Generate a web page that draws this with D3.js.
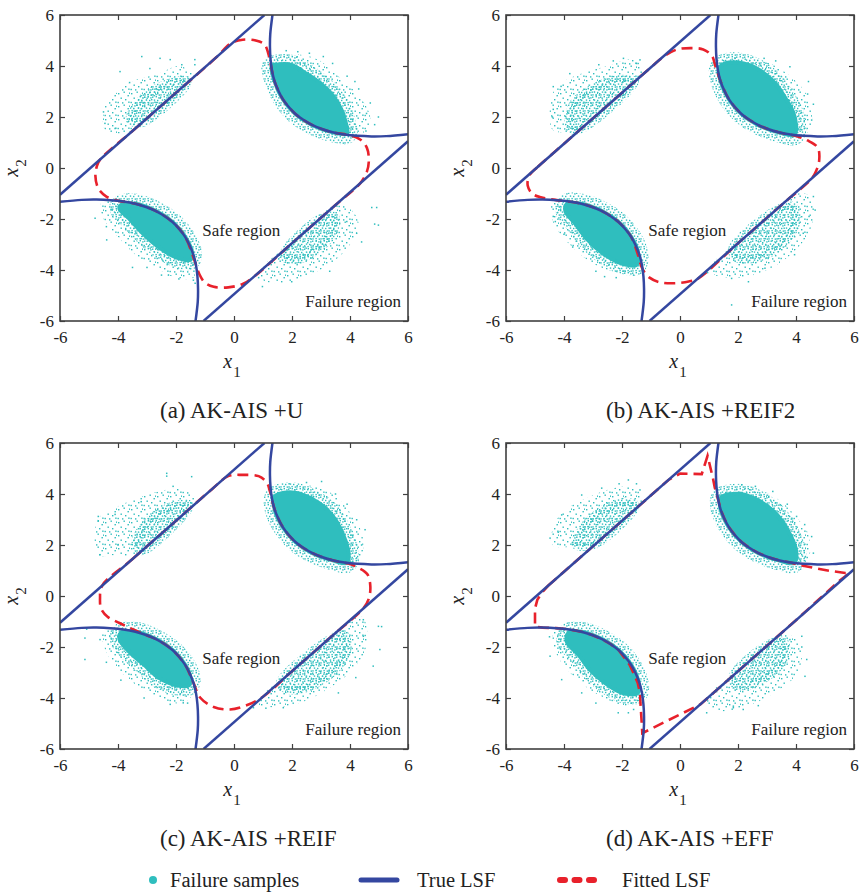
<!DOCTYPE html>
<html><head><meta charset="utf-8">
<script src="https://cdn.jsdelivr.net/npm/d3@7"></script>
<style>
body{margin:0;background:#fff}
text{font-family:"Liberation Serif","Times New Roman",serif;fill:#222}
</style></head><body>
<svg id="chart" width="860" height="895"></svg>
<script>
// ---------------- DATA ----------------
const axisTicks = [-6,-4,-2,0,2,4,6];
const panelCaptions = ["(a) AK-AIS +U","(b) AK-AIS +REIF2","(c) AK-AIS +REIF","(d) AK-AIS +EFF"];
const legendLabels = ["Failure samples","True LSF","Fitted LSF"];
const regionLabels = [["Safe region",0.25,-2.65],["Failure region",5.76,-5.45]];

// true limit-state function branches
const trueLineUpper = [[-6,-1.05],[1.05,6]];
const trueLineLower = [[-1.05,-6],[6,1.05]];
const trueCurveUR = [[1.33,6.03],[1.25,5.25],[1.24,4.74],[1.26,4.26],[1.31,3.81],[1.40,3.40],[1.53,3.03],[1.69,2.69],[1.89,2.39],[2.12,2.12],[2.39,1.89],[2.69,1.69],[3.03,1.53],[3.40,1.40],[3.81,1.31],[4.26,1.26],[4.74,1.24],[5.25,1.25],[6.03,1.33]];
const trueCurveLL = [[-1.33,-6.03],[-1.25,-5.25],[-1.24,-4.74],[-1.26,-4.26],[-1.31,-3.81],[-1.40,-3.40],[-1.53,-3.03],[-1.69,-2.69],[-1.89,-2.39],[-2.12,-2.12],[-2.39,-1.89],[-2.69,-1.69],[-3.03,-1.53],[-3.40,-1.40],[-3.81,-1.31],[-4.26,-1.26],[-4.74,-1.24],[-5.25,-1.25],[-6.03,-1.33]];

// fitted LSF (closed contours)
const fitted_a = [[-4.62,0.33],[-3.5,1.45],[-2.0,2.95],[-0.6,4.35],[-0.1,4.9],[0.3,5.03],[0.75,5.0],[1.05,4.85],[1.18,4.5],[1.26,4.1],[1.40,3.40],[1.69,2.69],[2.12,2.12],[2.69,1.69],[3.40,1.40],[4.0,1.28],[4.35,1.12],[4.58,0.8],[4.65,0.3],[4.58,-0.15],[4.35,-0.6],[3.5,-1.45],[2.0,-2.95],[0.7,-4.25],[0.3,-4.55],[-0.2,-4.68],[-0.7,-4.66],[-1.0,-4.5],[-1.2,-4.15],[-1.4,-3.5],[-1.69,-2.69],[-2.12,-2.12],[-2.69,-1.69],[-3.40,-1.40],[-4.0,-1.28],[-4.4,-1.12],[-4.68,-0.8],[-4.78,-0.3],[-4.72,0.1]];
const fitted_b = [[-5.2,-0.3],[-4.9,0.05],[-4.0,0.95],[-2.5,2.45],[-1.0,3.95],[-0.5,4.42],[-0.1,4.65],[0.35,4.7],[0.8,4.65],[1.1,4.4],[1.22,4.0],[1.40,3.40],[1.69,2.69],[2.12,2.12],[2.69,1.69],[3.40,1.40],[3.95,1.27],[4.4,1.08],[4.75,0.8],[4.8,0.3],[4.7,-0.1],[4.55,-0.4],[3.5,-1.45],[2.0,-2.95],[0.6,-4.35],[0.3,-4.45],[-0.2,-4.52],[-0.7,-4.48],[-1.05,-4.3],[-1.3,-3.95],[-1.45,-3.4],[-1.69,-2.69],[-2.12,-2.12],[-2.69,-1.69],[-3.40,-1.40],[-4.3,-1.25],[-4.8,-1.15],[-5.1,-1.0],[-5.25,-0.7]];
const fitted_c = [[-4.55,0.4],[-3.5,1.45],[-2.0,2.95],[-0.75,4.2],[-0.2,4.7],[0.3,4.75],[0.85,4.7],[1.13,4.45],[1.24,4.1],[1.40,3.40],[1.69,2.69],[2.12,2.12],[2.69,1.69],[3.40,1.40],[3.95,1.27],[4.3,1.1],[4.6,0.85],[4.7,0.4],[4.65,-0.1],[4.45,-0.5],[3.5,-1.45],[2.0,-2.95],[1.0,-3.95],[0.4,-4.3],[-0.14,-4.45],[-0.7,-4.35],[-1.17,-3.98],[-1.4,-3.4],[-1.69,-2.69],[-2.12,-2.12],[-2.69,-1.69],[-3.03,-1.53],[-3.5,-1.3],[-3.95,-1.06],[-4.35,-0.82],[-4.58,-0.5],[-4.62,-0.1]];
const fitted_d = [[-4.55,0.4],[-3.5,1.45],[-2.0,2.95],[-1.0,3.95],[-0.4,4.55],[0.0,4.8],[0.75,4.78],[0.95,5.5],[1.13,4.65],[1.2,4.25],[1.31,3.81],[1.40,3.40],[1.53,3.03],[1.69,2.69],[1.89,2.39],[2.12,2.12],[2.39,1.89],[2.69,1.69],[3.03,1.53],[3.40,1.40],[3.81,1.31],[4.2,1.2],[4.7,1.08],[5.2,0.98],[5.7,0.9],[5.85,0.9],[5.5,0.6],[4.0,-0.95],[2.0,-2.95],[0.7,-4.25],[-1.3,-5.38],[-1.33,-4.8],[-1.36,-4.26],[-1.38,-3.81],[-1.46,-3.40],[-1.6,-3.03],[-1.74,-2.69],[-1.92,-2.42],[-2.12,-2.12],[-2.39,-1.89],[-2.69,-1.69],[-3.03,-1.53],[-3.40,-1.40],[-3.81,-1.31],[-4.26,-1.26],[-4.74,-1.24],[-5.0,-1.2],[-5.0,-0.5],[-4.92,-0.15],[-4.75,0.15]];

// failure samples: sparse outer envelope, dense core, isolated points (clusters UL, UR, LL, LR)
const samplesHalo_a = [
 [[-4.45,1.5],[-4.45,2.4],[-4.0,3.0],[-3.4,3.45],[-2.6,3.7],[-1.9,4.0],[-1.4,3.7],[-1.4,3.55],[-3.5,1.45],[-4.0,1.35]],
 [[1.5,4.35],[2.2,4.45],[2.9,4.25],[3.5,3.7],[4.0,3.2],[4.4,2.7],[4.65,2.2],[4.7,1.7],[4.4,1.35],[3.9,1.28],[3.4,1.4],[2.12,2.12],[1.4,3.4],[1.35,4.2]],
 [[-4.6,-1.4],[-4.26,-1.26],[-3.4,-1.4],[-2.12,-2.12],[-1.45,-3.3],[-1.35,-3.8],[-1.4,-4.3],[-2.0,-4.3],[-2.7,-3.9],[-3.4,-3.4],[-4.0,-2.7],[-4.5,-2.0]],
 [[0.9,-4.05],[2.4,-2.55],[3.5,-1.45],[4.0,-1.6],[4.3,-2.2],[4.0,-3.0],[3.4,-3.7],[2.6,-4.2],[1.8,-4.5],[1.0,-4.4]]
];
const samplesCore_a = [
 [[-3.6,1.9],[-3.3,2.55],[-2.8,3.05],[-2.2,3.35],[-1.75,3.45],[-1.6,3.35],[-3.2,1.75]],
 [[1.45,4.05],[1.95,4.05],[2.5,3.7],[3.0,3.3],[3.4,2.85],[3.7,2.3],[3.85,1.8],[3.9,1.35],[3.4,1.4],[2.69,1.69],[2.12,2.12],[1.69,2.69],[1.4,3.4],[1.3,4.0]],
 [[-3.9,-1.45],[-3.4,-1.4],[-2.69,-1.69],[-2.12,-2.12],[-1.69,-2.69],[-1.45,-3.3],[-1.5,-3.6],[-2.0,-3.5],[-2.6,-3.1],[-3.2,-2.5],[-3.6,-2.0],[-3.95,-1.6]],
 [[1.8,-3.15],[3.0,-1.95],[3.5,-1.9],[3.4,-2.6],[2.9,-3.2],[2.2,-3.6],[1.7,-3.5]]
];
const samplesOut_a = [[-3.18,4.37],[-2.55,4.3],[-2.2,4.25],[-1.35,4.25],[-1.35,4.05],[-3.93,3.78],[-4.5,2.2],[-4.45,1.75],[-4.1,1.55],[-1.8,4.05],[-2.9,3.9],[-3.6,3.35],
 [2.2,4.56],[3.08,4.37],[3.4,4.1],[4.3,3.1],[4.7,2.55],[4.98,2.0],[4.85,1.7],[4.55,1.45],[3.9,3.6],[2.6,4.5],[1.8,4.6],[4.17,3.39],[4.57,2.14],
 [-4.79,-1.97],[-4.39,-2.82],[-4.4,-2.3],[-3.5,-3.9],[-2.5,-4.2],[-1.34,-4.52],[-1.4,-4.4],[-3.0,-3.9],[-4.2,-1.65],[-2.26,-4.2],[-1.9,-4.35],
 [4.75,-1.55],[4.92,-1.55],[4.85,-2.2],[4.98,-2.24],[4.23,-2.56],[3.89,-2.1],[1.99,-4.46],[0.98,-4.65],[3.3,-4.05],[4.4,-2.9],[0.85,-4.3]];

const samplesHalo_b = [
 [[-4.4,1.5],[-4.4,2.9],[-4.0,3.4],[-3.3,3.75],[-2.5,4.0],[-1.8,4.25],[-1.35,4.1],[-1.3,3.65],[-3.4,1.55],[-4.0,1.4]],
 [[1.5,4.25],[2.4,4.3],[3.3,4.0],[3.9,3.5],[4.3,3.0],[4.5,2.4],[4.55,1.8],[4.4,1.4],[3.95,1.27],[3.4,1.4],[2.12,2.12],[1.4,3.4],[1.3,4.1]],
 [[-4.4,-1.3],[-3.4,-1.4],[-2.12,-2.12],[-1.45,-3.3],[-1.4,-3.9],[-1.8,-4.1],[-2.5,-4.0],[-3.2,-3.6],[-3.8,-3.0],[-4.3,-2.3],[-4.45,-1.8]],
 [[1.0,-3.95],[2.5,-2.45],[3.9,-1.05],[4.5,-1.1],[4.6,-2.0],[4.3,-2.8],[3.6,-3.6],[2.8,-4.1],[2.0,-4.3],[1.2,-4.2]]
];
const samplesCore_b = [
 [[-3.8,1.55],[-3.7,2.5],[-3.2,3.0],[-2.6,3.35],[-2.0,3.5],[-1.55,3.4],[-3.45,1.5]],
 [[1.55,4.1],[2.2,4.1],[2.8,3.8],[3.3,3.3],[3.6,2.8],[3.9,2.2],[4.0,1.7],[3.95,1.3],[3.4,1.4],[2.69,1.69],[2.12,2.12],[1.69,2.69],[1.4,3.4],[1.35,3.9]],
 [[-3.9,-1.4],[-3.4,-1.4],[-2.69,-1.69],[-2.12,-2.12],[-1.69,-2.69],[-1.45,-3.3],[-1.5,-3.8],[-2.0,-3.75],[-2.6,-3.4],[-3.2,-2.8],[-3.6,-2.2],[-3.95,-1.7]],
 [[1.8,-3.15],[3.3,-1.65],[3.9,-1.5],[4.0,-2.2],[3.6,-2.9],[3.0,-3.4],[2.3,-3.6],[1.9,-3.5]]
];
const samplesOut_b = [[-1.95,4.3],[-1.5,4.1],[-1.38,4.24],[-2.3,4.2],[-4.37,3.19],[-4.37,2.3],[-4.4,2.0],[-3.8,3.7],[-2.8,4.05],[-4.1,3.2],
 [3.79,3.97],[4.43,3.39],[4.54,1.88],[3.3,4.2],[2.9,4.3],[4.6,2.5],[4.4,2.9],[1.9,4.3],[4.2,1.5],
 [-4.37,-1.9],[-4.3,-2.1],[-2.6,-4.26],[-2.9,-4.05],[-3.7,-3.1],[-4.0,-2.6],[-1.6,-4.2],[-2.2,-4.3],
 [4.6,-1.12],[4.66,-1.65],[4.25,-2.56],[2.36,-4.46],[2.93,-3.93],[1.78,-4.33],[1.78,-5.37],[4.45,-1.9],[0.95,-4.1],[3.95,-3.4]];

const samplesHalo_c = [
 [[-4.7,1.6],[-4.7,3.0],[-4.2,3.4],[-3.4,3.8],[-2.6,4.1],[-1.9,4.2],[-1.5,4.1],[-1.35,3.6],[-3.3,1.65],[-4.2,1.6]],
 [[1.5,4.25],[2.3,4.35],[3.1,4.2],[3.7,3.7],[4.1,3.1],[4.4,2.5],[4.45,1.8],[4.3,1.35],[3.9,1.28],[3.4,1.4],[2.12,2.12],[1.4,3.4],[1.35,4.1]],
 [[-4.5,-1.3],[-3.4,-1.4],[-2.12,-2.12],[-1.45,-3.3],[-1.4,-3.8],[-1.8,-4.2],[-2.4,-4.1],[-3.1,-3.7],[-3.7,-3.2],[-4.2,-2.6],[-4.5,-1.9]],
 [[0.8,-4.15],[2.5,-2.45],[3.8,-1.15],[4.4,-0.8],[4.6,-1.4],[4.5,-2.2],[4.0,-3.0],[3.3,-3.6],[2.5,-4.1],[1.6,-4.35],[0.9,-4.3]]
];
const samplesCore_c = [
 [[-3.4,2.1],[-3.0,2.9],[-2.5,3.35],[-1.9,3.6],[-1.55,3.6],[-1.6,3.35],[-3.2,1.75]],
 [[1.55,4.0],[2.1,4.05],[2.7,3.8],[3.2,3.4],[3.55,2.9],[3.8,2.3],[3.95,1.7],[3.9,1.3],[3.4,1.4],[2.69,1.69],[2.12,2.12],[1.69,2.69],[1.4,3.4],[1.4,3.9]],
 [[-3.9,-1.45],[-3.4,-1.4],[-2.69,-1.69],[-2.12,-2.12],[-1.69,-2.69],[-1.5,-3.2],[-1.55,-3.5],[-2.0,-3.5],[-2.6,-3.2],[-3.1,-2.7],[-3.6,-2.2],[-3.95,-1.7]],
 [[1.6,-3.35],[3.2,-1.75],[3.8,-1.5],[3.9,-2.2],[3.5,-2.9],[2.9,-3.4],[2.2,-3.7],[1.7,-3.6]]
];
const samplesOut_c = [[-2.32,4.81],[-2.32,4.7],[-1.46,4.68],[-4.68,3.12],[-4.68,2.95],[-4.62,1.62],[-4.1,3.2],[-2.1,4.3],[-3.2,3.7],[-4.0,2.0],
 [3.02,4.49],[4.23,2.99],[4.52,2.6],[3.5,4.0],[4.4,2.0],[2.5,4.45],[1.9,4.4],[3.9,3.6],
 [-5.14,-1.65],[-5.14,-2.49],[-5.08,-1.3],[-4.62,-1.71],[-1.75,-4.19],[-1.6,-4.2],[-3.1,-4.0],[-3.9,-3.3],[-4.4,-2.6],[-2.2,-4.25],
 [4.98,-1.19],[5.09,-1.2],[5.03,-2.1],[4.8,-2.75],[4.46,-0.93],[4.46,-1.58],[0.67,-4.38],[1.1,-4.4],[1.7,-4.38],[4.2,-3.2],[3.6,-3.8]];

const samplesHalo_d = [
 [[-4.4,2.0],[-4.3,2.9],[-3.8,3.5],[-3.1,3.9],[-2.4,4.2],[-1.7,4.3],[-1.35,4.05],[-1.3,3.65],[-2.95,2.0],[-3.5,1.95]],
 [[1.5,4.15],[2.2,4.25],[3.0,4.05],[3.6,3.6],[4.0,3.1],[4.4,2.5],[4.5,1.8],[4.35,1.35],[3.95,1.27],[3.4,1.4],[2.12,2.12],[1.4,3.4],[1.35,4.0]],
 [[-4.3,-1.3],[-3.4,-1.4],[-2.12,-2.12],[-1.45,-3.3],[-1.4,-4.1],[-1.9,-4.3],[-2.6,-4.0],[-3.2,-3.6],[-3.8,-3.0],[-4.2,-2.4],[-4.4,-1.8]],
 [[0.9,-4.05],[2.3,-2.65],[3.4,-1.55],[3.9,-1.6],[4.2,-2.3],[4.0,-3.1],[3.4,-3.7],[2.6,-4.2],[1.8,-4.5],[1.0,-4.4]]
];
const samplesCore_d = [
 [[-3.6,2.0],[-3.4,2.6],[-2.9,3.2],[-2.4,3.55],[-1.9,3.7],[-1.55,3.6],[-1.6,3.35],[-2.95,2.0]],
 [[1.55,3.95],[2.1,4.0],[2.7,3.75],[3.2,3.35],[3.55,2.9],[3.8,2.4],[4.0,1.8],[3.95,1.3],[3.4,1.4],[2.69,1.69],[2.12,2.12],[1.69,2.69],[1.4,3.4],[1.4,3.85]],
 [[-3.85,-1.45],[-3.4,-1.4],[-2.69,-1.69],[-2.12,-2.12],[-1.69,-2.69],[-1.45,-3.3],[-1.45,-3.8],[-2.0,-3.8],[-2.6,-3.4],[-3.1,-2.9],[-3.5,-2.3],[-3.9,-1.8]],
 [[1.8,-3.15],[3.1,-1.85],[3.6,-1.8],[3.6,-2.5],[3.1,-3.1],[2.4,-3.5],[1.9,-3.5]]
];
const samplesOut_d = [[-1.78,4.55],[-2.7,4.23],[-3.39,3.96],[-4.08,3.18],[-4.48,2.27],[-1.38,4.16],[-4.2,2.5],[-2.1,4.4],[-3.7,2.1],[-1.5,4.4],
 [2.13,4.36],[4.02,3.12],[4.6,1.68],[4.54,2.33],[3.2,4.1],[2.6,4.3],[3.7,3.6],[4.3,2.8],
 [-4.48,-2.36],[-4.08,-3.28],[-3.39,-3.8],[-2.13,-4.58],[-1.78,-4.58],[-4.14,-1.25],[-4.5,-1.6],[-2.9,-4.2],[-1.6,-4.45],
 [4.2,-1.58],[4.2,-2.0],[4.37,-2.49],[4.31,-3.15],[1.84,-4.32],[1.84,-4.38],[0.92,-4.58],[2.18,-4.45],[3.79,-1.71],[2.7,-4.3]];

// ---------------- STYLE / LAYOUT ----------------
const CYAN = "#2fbebe", BLUE = "#3447a0", RED = "#e8212b", AXIS = "#404040";
const PW = 348, PH = 306;
const layout = [[60,15],[506,15],[60,443],[506,443]];
const panels = [
 {fitted: fitted_a, halo: samplesHalo_a, core: samplesCore_a, pts: samplesOut_a, linear:false},
 {fitted: fitted_b, halo: samplesHalo_b, core: samplesCore_b, pts: samplesOut_b, linear:false},
 {fitted: fitted_c, halo: samplesHalo_c, core: samplesCore_c, pts: samplesOut_c, linear:false},
 {fitted: fitted_d, halo: samplesHalo_d, core: samplesCore_d, pts: samplesOut_d, linear:true}
];

const svg = d3.select("#chart");
const defs = svg.append("defs");
function addPattern(id, size, dots){
  const p = defs.append("pattern").attr("id", id).attr("patternUnits","userSpaceOnUse")
    .attr("width", size).attr("height", size);
  dots.forEach(([a,b]) => p.append("rect").attr("x",a).attr("y",b).attr("width",1.4).attr("height",1.4).attr("fill",CYAN));
}
addPattern("stipSparse", 13, [[1,2],[6.5,0.5],[10.5,4],[3.5,6.5],[8,8],[0.5,10.8],[5,11.2],[11.2,10.5],[12,1.5]]);
addPattern("stipMedium", 8, [[0,0.5],[3.6,0],[6.2,1.2],[1.8,3.4],[5,3.8],[0.3,6.2],[3.4,5.9],[6.6,6.4]]);

const fmt = d => (d < 0 ? "-" : "") + Math.abs(d);

panels.forEach((P, i) => {
  const [L, T] = layout[i];
  const x = d3.scaleLinear().domain([-6,6]).range([L, L+PW]);
  const y = d3.scaleLinear().domain([-6,6]).range([T+PH, T]);
  const g = svg.append("g");
  const clipId = "clip" + i;
  defs.append("clipPath").attr("id", clipId).append("rect")
    .attr("x", L).attr("y", T).attr("width", PW).attr("height", PH);
  const plot = g.append("g").attr("clip-path", `url(#${clipId})`);

  const blob = d3.line().x(d => x(d[0])).y(d => y(d[1])).curve(d3.curveCatmullRomClosed.alpha(0.5));
  const smoothOpen = d3.line().x(d => x(d[0])).y(d => y(d[1])).curve(d3.curveCatmullRom.alpha(0.5));
  const straight = d3.line().x(d => x(d[0])).y(d => y(d[1]));
  const fitLine = d3.line().x(d => x(d[0])).y(d => y(d[1]))
    .curve(P.linear ? d3.curveLinearClosed : d3.curveCatmullRomClosed.alpha(0.5));
  const dense = k => k === 1 || k === 2;

  // failure samples
  plot.selectAll(".halo").data(P.halo).join("path").attr("class","halo")
    .attr("d", blob).attr("fill", "url(#stipSparse)");
  plot.selectAll(".core").data(P.core).join("path").attr("class","core")
    .attr("d", blob)
    .attr("fill", "url(#stipMedium)")
    .attr("stroke", "url(#stipMedium)")
    .attr("stroke-width", (d,k) => dense(k) ? 20 : 8);
  plot.selectAll(".core2").data(P.core.filter((d,k) => dense(k))).join("path").attr("class","core2")
    .attr("d", blob).attr("fill", CYAN).attr("stroke", CYAN).attr("stroke-width", 4);
  plot.selectAll(".pt").data(P.pts).join("rect").attr("class","pt")
    .attr("x", d => x(d[0]) - 0.75).attr("y", d => y(d[1]) - 0.75)
    .attr("width", 1.5).attr("height", 1.5).attr("fill", CYAN);

  // fitted LSF
  plot.append("path").datum(P.fitted).attr("d", fitLine)
    .attr("fill","none").attr("stroke", RED).attr("stroke-width", 2.6)
    .attr("stroke-dasharray","11,6");

  // true LSF
  [trueLineUpper, trueLineLower].forEach(s => plot.append("path").datum(s).attr("d", straight)
    .attr("fill","none").attr("stroke", BLUE).attr("stroke-width", 2.5));
  [trueCurveUR, trueCurveLL].forEach(s => plot.append("path").datum(s).attr("d", smoothOpen)
    .attr("fill","none").attr("stroke", BLUE).attr("stroke-width", 2.5));

  // region labels
  regionLabels.forEach((r, k) => g.append("text").attr("x", x(r[1])).attr("y", y(r[2]))
    .attr("text-anchor", k === 0 ? "middle" : "end").attr("font-size", 17).text(r[0]));

  // axes
  const styleAxis = sel => {
    sel.select(".domain").remove();
    sel.selectAll(".tick line").attr("stroke", AXIS).attr("stroke-width", 1.2);
    sel.selectAll(".tick text").attr("font-size", 17).attr("fill", "#333")
      .attr("font-family", '"Liberation Serif","Times New Roman",serif');
  };
  g.append("g").attr("transform", `translate(0,${T+PH})`)
    .call(d3.axisBottom(x).tickValues(axisTicks).tickSize(-5).tickPadding(10).tickFormat(fmt)).call(styleAxis);
  g.append("g").attr("transform", `translate(0,${T})`)
    .call(d3.axisTop(x).tickValues(axisTicks).tickSize(-5).tickFormat("")).call(styleAxis);
  g.append("g").attr("transform", `translate(${L},0)`)
    .call(d3.axisLeft(y).tickValues(axisTicks).tickSize(-5).tickPadding(6).tickFormat(fmt)).call(styleAxis);
  g.append("g").attr("transform", `translate(${L+PW},0)`)
    .call(d3.axisRight(y).tickValues(axisTicks).tickSize(-5).tickFormat("")).call(styleAxis);
  g.append("rect").attr("x", L).attr("y", T).attr("width", PW).attr("height", PH)
    .attr("fill","none").attr("stroke", AXIS).attr("stroke-width", 1.6);

  // axis titles
  const xl = g.append("text").attr("x", L + PW/2 - 2).attr("y", T + PH + 47).attr("text-anchor","middle");
  xl.append("tspan").attr("font-style","italic").attr("font-size", 20).text("x");
  xl.append("tspan").attr("font-size", 15).attr("dx", 1).attr("dy", 9).text("1");
  const yl = g.append("text").attr("transform", `translate(${L-42},${T+PH/2}) rotate(-90)`).attr("text-anchor","middle");
  yl.append("tspan").attr("font-style","italic").attr("font-size", 20).text("x");
  yl.append("tspan").attr("font-size", 15).attr("dx", 1).attr("dy", 8).text("2");

  // caption
  g.append("text").attr("x", L + 100).attr("y", T + PH + 97).attr("text-anchor","start")
    .attr("font-size", 23).text(panelCaptions[i]);
});

// legend
const lg = svg.append("g");
const LY = 880;
lg.append("circle").attr("cx",153).attr("cy",LY).attr("r",4).attr("fill",CYAN);
lg.append("text").attr("x",170).attr("y",LY+7).attr("font-size",20.5).text(legendLabels[0]);
lg.append("line").attr("x1",361).attr("x2",397).attr("y1",LY).attr("y2",LY)
  .attr("stroke",BLUE).attr("stroke-width",5).attr("stroke-linecap","round");
lg.append("text").attr("x",417).attr("y",LY+7).attr("font-size",20.5).text(legendLabels[1]);
lg.append("line").attr("x1",560).attr("x2",594).attr("y1",LY).attr("y2",LY)
  .attr("stroke",RED).attr("stroke-width",6).attr("stroke-linecap","round").attr("stroke-dasharray","5,9.5");
lg.append("text").attr("x",622).attr("y",LY+7).attr("font-size",20.5).text(legendLabels[2]);
</script></body></html>
